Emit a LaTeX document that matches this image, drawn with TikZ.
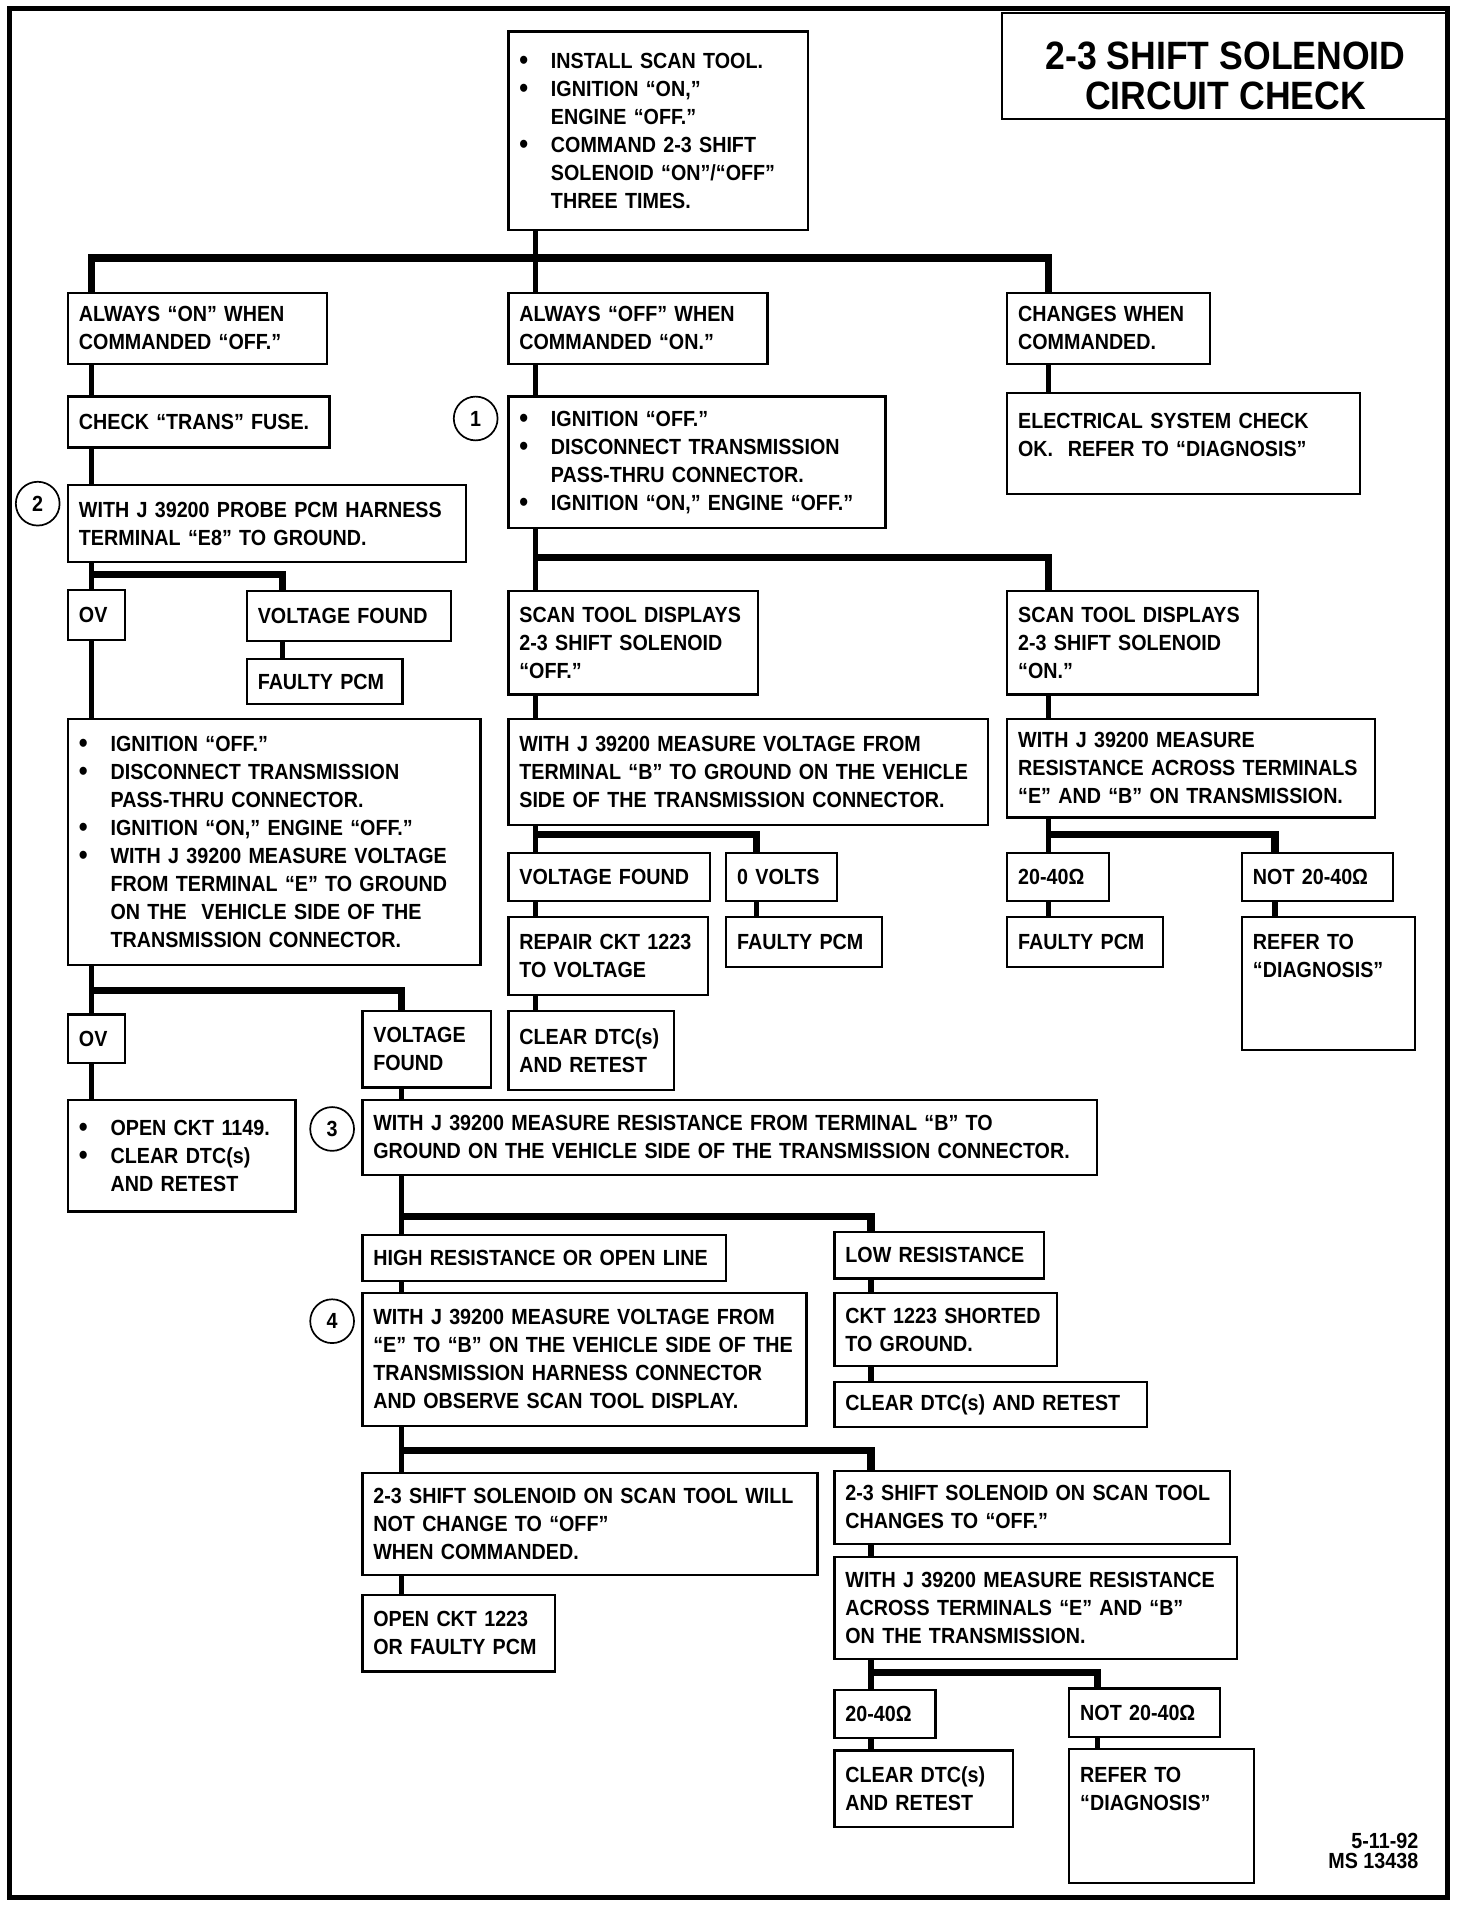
\documentclass[tikz,border=0pt]{standalone}
\usepackage{fontspec}
\setmainfont{Liberation Sans}[FakeStretch=0.9]
\newcommand\bul{\makebox[26pt][l]{\raisebox{-1pt}{\fontsize{23}{23}\selectfont\textbullet}}}
\newcommand\bulsp{\hspace*{26pt}}

\begin{document}
\begin{tikzpicture}[x=1pt, y=-1pt,
    box/.style={draw, line width=1.8pt, anchor=north west, align=left, inner xsep=9pt, inner ysep=3pt, font=\fontsize{18}{23}\selectfont\bfseries},
    link/.style={line width=4.5pt},
    bus/.style={line width=6pt},
    num/.style={draw, circle, line width=1.4pt, minimum size=36pt, inner sep=0pt, font=\fontsize{18}{23}\selectfont\bfseries}]
  \useasboundingbox (0,0) rectangle (1210,1570);
  \draw[line width=4pt] (8,7) rectangle (1190,1560);
  \node[draw, line width=1.8pt, anchor=north west, minimum width=367pt, minimum height=87pt, align=center, inner sep=0pt,
        font=\fontsize{32.5}{33}\selectfont\bfseries] (title) at (823,10) {\rule{0pt}{38pt}2-3 SHIFT SOLENOID\\CIRCUIT CHECK};

  \node[box, text width=228pt, minimum height=163pt] (install) at (417,25)
    {\bul INSTALL SCAN TOOL.\\\bul IGNITION ``ON,''\\\bulsp ENGINE ``OFF.''\\\bul COMMAND 2-3 SHIFT\\\bulsp SOLENOID ``ON''/``OFF''\\\bulsp THREE TIMES.};

  \node[box, text width=195pt, minimum height=58pt] (alwon) at (55,240) {ALWAYS ``ON'' WHEN\\COMMANDED ``OFF.''};
  \node[box, text width=195pt, minimum height=58pt] (alwoff) at (417,240) {ALWAYS ``OFF'' WHEN\\COMMANDED ``ON.''};
  \node[box, text width=149pt, minimum height=58pt] (changes) at (827,240) {CHANGES WHEN\\COMMANDED.};

  \node[box, text width=197pt, minimum height=42pt] (fuse) at (55,325) {CHECK ``TRANS'' FUSE.};
  \node[box, text width=292pt, minimum height=108pt] (ignoff) at (417,325)
    {\bul IGNITION ``OFF.''\\\bul DISCONNECT TRANSMISSION\\\bulsp PASS-THRU CONNECTOR.\\\bul IGNITION ``ON,'' ENGINE ``OFF.''};
  \node[box, text width=272pt, minimum height=83pt] (elec) at (827,322)
    {ELECTRICAL SYSTEM CHECK\\OK.~ REFER TO ``DIAGNOSIS''\rule[-14pt]{0pt}{14pt}};

  \node[box, text width=309pt, minimum height=63pt] (probe) at (55,398) {WITH J 39200 PROBE PCM HARNESS\\TERMINAL ``E8'' TO GROUND.};
  \node[box, text width=29pt, minimum height=41pt] (ovA) at (55,484) {OV};
  \node[box, text width=150pt, minimum height=41pt] (vfA) at (202,485) {VOLTAGE FOUND};
  \node[box, text width=110pt, minimum height=37pt] (pcmA) at (202,541) {FAULTY PCM};
  \node[box, text width=321pt, minimum height=202pt] (measE) at (55,590)
    {\bul IGNITION ``OFF.''\\\bul DISCONNECT TRANSMISSION\\\bulsp PASS-THRU CONNECTOR.\\\bul IGNITION ``ON,'' ENGINE ``OFF.''\\
     \bul WITH J 39200 MEASURE VOLTAGE\\\bulsp FROM TERMINAL ``E'' TO GROUND\\\bulsp ON THE~ VEHICLE SIDE OF THE\\\bulsp TRANSMISSION CONNECTOR.};
  \node[box, text width=29pt, minimum height=40pt] (ovB) at (55,833) {OV};
  \node[box, text width=88pt, minimum height=63pt] (vfB) at (297,830) {VOLTAGE\\FOUND};
  \node[box, text width=169pt, minimum height=92pt] (open1149) at (55,903) {\bul OPEN CKT 1149.\\\bul CLEAR DTC(s)\\\bulsp AND RETEST};

  \node[box, text width=187pt, minimum height=85pt] (dispoff) at (417,485) {SCAN TOOL DISPLAYS\\2-3 SHIFT SOLENOID\\``OFF.''};
  \node[box, text width=188pt, minimum height=85pt] (dispon) at (827,485) {SCAN TOOL DISPLAYS\\2-3 SHIFT SOLENOID\\``ON.''};
  \node[box, text width=376pt, minimum height=87pt] (measB) at (417,590)
    {WITH J 39200 MEASURE VOLTAGE FROM\\TERMINAL ``B'' TO GROUND ON THE VEHICLE\\SIDE OF THE TRANSMISSION CONNECTOR.};
  \node[box, text width=284pt, minimum height=81pt] (measEB) at (827,590)
    {WITH J 39200 MEASURE\\RESISTANCE ACROSS TERMINALS\\``E'' AND ``B'' ON TRANSMISSION.};
  \node[box, text width=148pt, minimum height=40pt] (vfC) at (417,700) {VOLTAGE FOUND};
  \node[box, text width=73pt, minimum height=40pt] (zerov) at (596,700) {0 VOLTS};
  \node[box, text width=146pt, minimum height=64pt] (repair) at (417,753) {REPAIR CKT 1223\\TO VOLTAGE};
  \node[box, text width=110pt, minimum height=41pt] (pcmB) at (596,753) {FAULTY PCM};
  \node[box, text width=118pt, minimum height=65pt] (clearA) at (417,830) {CLEAR DTC(s)\\AND RETEST};
  \node[box, text width=66pt, minimum height=40pt] (okA) at (827,700) {20-40Ω};
  \node[box, text width=106pt, minimum height=40pt] (notA) at (1020,700) {NOT 20-40Ω};
  \node[box, text width=110pt, minimum height=41pt] (pcmC) at (827,753) {FAULTY PCM};
  \node[box, text width=124pt, minimum height=109pt] (diagA) at (1020,753) {REFER TO\\``DIAGNOSIS''\rule[-46pt]{0pt}{46pt}};

  \node[box, text width=586pt, minimum height=62pt] (resB) at (297,903)
    {WITH J 39200 MEASURE RESISTANCE FROM TERMINAL ``B'' TO\\GROUND ON THE VEHICLE SIDE OF THE TRANSMISSION CONNECTOR.};
  \node[box, text width=281pt, minimum height=38pt] (high) at (297,1014) {HIGH RESISTANCE OR OPEN LINE};
  \node[box, text width=154pt, minimum height=38pt] (low) at (685,1012) {LOW RESISTANCE};
  \node[box, text width=347pt, minimum height=109pt] (measVEB) at (297,1062)
    {WITH J 39200 MEASURE VOLTAGE FROM\\``E'' TO ``B'' ON THE VEHICLE SIDE OF THE\\TRANSMISSION HARNESS CONNECTOR\\AND OBSERVE SCAN TOOL DISPLAY.};
  \node[box, text width=165pt, minimum height=60pt] (short) at (685,1062) {CKT 1223 SHORTED\\TO GROUND.};
  \node[box, text width=239pt, minimum height=37pt] (clearB) at (685,1135) {CLEAR DTC(s) AND RETEST};
  \node[box, text width=356pt, minimum height=84pt] (nochange) at (297,1210)
    {2-3 SHIFT SOLENOID ON SCAN TOOL WILL\\NOT CHANGE TO ``OFF''\\WHEN COMMANDED.};
  \node[box, text width=307pt, minimum height=60pt] (change) at (685,1208) {2-3 SHIFT SOLENOID ON SCAN TOOL\\CHANGES TO ``OFF.''};
  \node[box, text width=140pt, minimum height=63pt] (open1223) at (297,1310) {OPEN CKT 1223\\OR FAULTY PCM};
  \node[box, text width=313pt, minimum height=84pt] (resEB) at (685,1279)
    {WITH J 39200 MEASURE RESISTANCE\\ACROSS TERMINALS ``E'' AND ``B''\\ON THE TRANSMISSION.};
  \node[box, text width=65pt, minimum height=40pt] (okB) at (685,1388) {20-40Ω};
  \node[box, text width=106pt, minimum height=40pt] (notB) at (878,1387) {NOT 20-40Ω};
  \node[box, text width=129pt, minimum height=63pt] (clearC) at (685,1438) {CLEAR DTC(s)\\AND RETEST};
  \node[box, text width=134pt, minimum height=110pt] (diagB) at (878,1437) {REFER TO\\``DIAGNOSIS''\rule[-45pt]{0pt}{45pt}};

  \node[num] (num1) at (391,344) {1};
  \node[num] (num2) at (31,414) {2};
  \node[num] (num3) at (273,928) {3};
  \node[num] (num4) at (273,1086) {4};
  \node[anchor=north east, align=right, inner sep=0pt, font=\fontsize{18}{16}\selectfont\bfseries] (date) at (1166,1507) {5-11-92\\MS 13438};

  \coordinate (j1) at (440,212);
  \coordinate (j2) at (75,472);
  \coordinate (j3) at (75,814);
  \coordinate (j4) at (440,458);
  \coordinate (j5) at (440,686);
  \coordinate (j6) at (862,686);
  \coordinate (j7) at (330,1000);
  \coordinate (j8) at (330,1192);
  \coordinate (j9) at (716,1375);

  \draw[link] ([xshift=23pt]install.south west) -- ([xshift=23pt]alwoff.north west);
  \draw[bus] ([xshift=20pt]alwon.north west) |- (j1) -| ([xshift=35pt]changes.north west);
  \draw[link] ([xshift=20pt]alwon.south west) -- ([xshift=20pt]fuse.north west);
  \draw[link] ([xshift=20pt]fuse.south west) -- ([xshift=20pt]probe.north west);
  \draw[link] ([xshift=23pt]alwoff.south west) -- ([xshift=23pt]ignoff.north west);
  \draw[link] ([xshift=35pt]changes.south west) -- ([xshift=35pt]elec.north west);

  \draw[link] ([xshift=20pt]probe.south west) -- ([xshift=20pt]ovA.north west);
  \draw[bus] (j2) -| ([xshift=30pt]vfA.north west);
  \draw[link] ([xshift=30pt]vfA.south west) -- ([xshift=30pt]pcmA.north west);
  \draw[link] ([xshift=20pt]ovA.south west) -- ([xshift=20pt]measE.north west);
  \draw[link] ([xshift=20pt]measE.south west) -- ([xshift=20pt]ovB.north west);
  \draw[bus] (j3) -| ([xshift=33pt]vfB.north west);
  \draw[link] ([xshift=20pt]ovB.south west) -- ([xshift=20pt]open1149.north west);
  \draw[link] ([xshift=33pt]vfB.south west) -- ([xshift=33pt]resB.north west);

  \draw[link] ([xshift=23pt]ignoff.south west) -- ([xshift=23pt]dispoff.north west);
  \draw[bus] (j4) -| ([xshift=35pt]dispon.north west);
  \draw[link] ([xshift=23pt]dispoff.south west) -- ([xshift=23pt]measB.north west);
  \draw[link] ([xshift=35pt]dispon.south west) -- ([xshift=35pt]measEB.north west);
  \draw[link] ([xshift=23pt]measB.south west) -- ([xshift=23pt]vfC.north west);
  \draw[bus] (j5) -| ([xshift=26pt]zerov.north west);
  \draw[link] ([xshift=23pt]vfC.south west) -- ([xshift=23pt]repair.north west);
  \draw[link] ([xshift=23pt]repair.south west) -- ([xshift=23pt]clearA.north west);
  \draw[link] ([xshift=26pt]zerov.south west) -- ([xshift=26pt]pcmB.north west);
  \draw[link] ([xshift=35pt]measEB.south west) -- ([xshift=35pt]okA.north west);
  \draw[bus] (j6) -| ([xshift=28pt]notA.north west);
  \draw[link] ([xshift=35pt]okA.south west) -- ([xshift=35pt]pcmC.north west);
  \draw[link] ([xshift=28pt]notA.south west) -- ([xshift=28pt]diagA.north west);

  \draw[link] ([xshift=33pt]resB.south west) -- ([xshift=33pt]high.north west);
  \draw[bus] (j7) -| ([xshift=31pt]low.north west);
  \draw[link] ([xshift=33pt]high.south west) -- ([xshift=33pt]measVEB.north west);
  \draw[link] ([xshift=31pt]low.south west) -- ([xshift=31pt]short.north west);
  \draw[link] ([xshift=31pt]short.south west) -- ([xshift=31pt]clearB.north west);
  \draw[link] ([xshift=33pt]measVEB.south west) -- ([xshift=33pt]nochange.north west);
  \draw[bus] (j8) -| ([xshift=31pt]change.north west);
  \draw[link] ([xshift=33pt]nochange.south west) -- ([xshift=33pt]open1223.north west);
  \draw[link] ([xshift=31pt]change.south west) -- ([xshift=31pt]resEB.north west);
  \draw[link] ([xshift=31pt]resEB.south west) -- ([xshift=31pt]okB.north west);
  \draw[bus] (j9) -| ([xshift=24pt]notB.north west);
  \draw[link] ([xshift=31pt]okB.south west) -- ([xshift=31pt]clearC.north west);
  \draw[link] ([xshift=24pt]notB.south west) -- ([xshift=24pt]diagB.north west);
\end{tikzpicture}
\end{document}
